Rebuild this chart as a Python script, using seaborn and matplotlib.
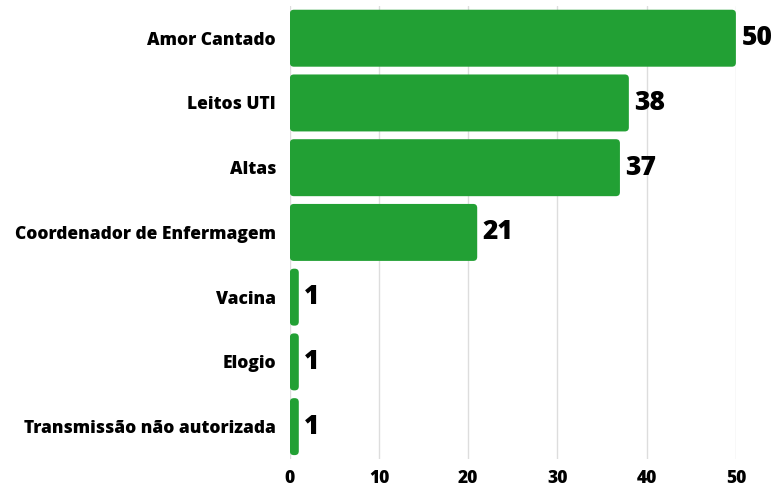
import matplotlib
matplotlib.use("Agg")
import matplotlib.pyplot as plt
from matplotlib.patches import FancyBboxPatch
import seaborn as sns
import pandas as pd

categories = [
    "Amor Cantado",
    "Leitos UTI",
    "Altas",
    "Coordenador de Enfermagem",
    "Vacina",
    "Elogio",
    "Transmissão não autorizada",
]
counts = [50, 38, 37, 21, 1, 1, 1]
ticks = [0, 10, 20, 30, 40, 50]

df = pd.DataFrame({"categoria": categories, "total": counts})

sns.set_theme(style="white")
plt.rcParams["font.family"] = ["Open Sans", "DejaVu Sans"]

green = "#22a034"
fig = plt.figure(figsize=(7.73, 4.87), dpi=100)
ax = fig.add_axes([0.375, 0.0575, 0.577, 0.9305])

sns.barplot(data=df, x="total", y="categoria", orient="h", color=green,
            saturation=1, width=0.88, ax=ax)

# swap the square bars for rounded ones of identical geometry
px_x = (0.577 * 773) / 50.0
px_y = (0.9305 * 487) / 7.0
aspect = px_x / px_y
for p in list(ax.patches):
    x, y = p.get_x(), p.get_y()
    w, h = p.get_width(), p.get_height()
    p.remove()
    r = min(4.0 / px_x, w / 2.0)
    ax.add_patch(FancyBboxPatch((x, y), w, h,
                                boxstyle=f"round,pad=0,rounding_size={r}",
                                mutation_aspect=aspect,
                                facecolor=green, edgecolor="none",
                                linewidth=0, zorder=3))

for i, v in enumerate(counts):
    ax.annotate(str(v), xy=(v, i), xytext=(4, 0), textcoords="offset points",
                va="center", ha="left", fontsize=19, fontweight="heavy",
                color="black", clip_on=False)

ax.set_xlim(0, 50)
ax.set_ylim(6.5, -0.5)
ax.set_xticks(ticks)
ax.set_xticklabels([str(t) for t in ticks])
ax.set_xlabel("")
ax.set_ylabel("")
ax.xaxis.grid(True, color="#dddddd", linewidth=1)
ax.set_axisbelow(True)
for s in ax.spines.values():
    s.set_visible(False)
ax.tick_params(axis="x", length=0, pad=8, labelsize=12.5)
ax.tick_params(axis="y", length=0, pad=10, labelsize=12.5)
for lbl in ax.get_xticklabels() + ax.get_yticklabels():
    lbl.set_fontweight("heavy")
    lbl.set_color("black")

fig.savefig("out.png", dpi=100)
